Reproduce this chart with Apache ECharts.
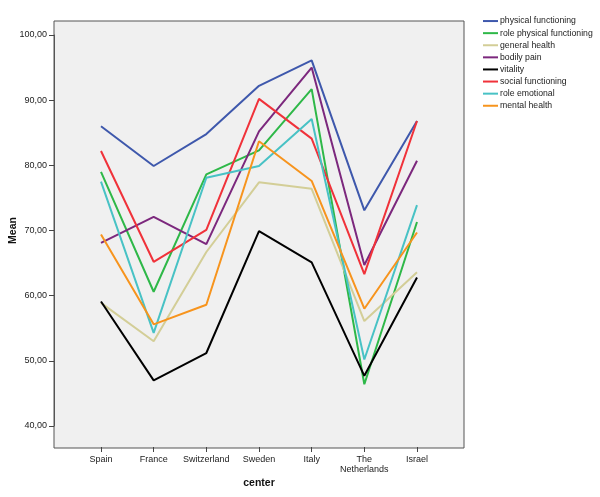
<!DOCTYPE html>
<html><head><meta charset="utf-8">
<script src="https://cdn.jsdelivr.net/npm/echarts@6/dist/echarts.min.js"></script>
<style>html,body{margin:0;padding:0;background:#fff}#c{width:600px;height:497px}</style>
</head><body><div id="c"></div>
<script>
const centers = ['Spain','France','Switzerland','Sweden','Italy','The\nNetherlands','Israel'];
const yTicks = [40,50,60,70,80,90,100];
const physicalFunctioning = [86.0, 79.9, 84.8, 92.2, 96.1, 73.1, 86.8];
const rolePhysical = [79.0, 60.6, 78.6, 82.3, 91.7, 46.4, 71.3];
const generalHealth = [58.9, 53.0, 66.7, 77.4, 76.4, 56.1, 63.6];
const bodilyPain = [68.1, 72.1, 67.9, 85.2, 95.0, 64.7, 80.7];
const vitality = [59.1, 47.0, 51.2, 69.9, 65.1, 47.7, 62.8];
const socialFunctioning = [82.2, 65.2, 70.1, 90.2, 84.1, 63.3, 86.8];
const roleEmotional = [77.5, 54.3, 78.1, 79.9, 87.1, 50.2, 73.9];
const mentalHealth = [69.4, 55.6, 58.6, 83.7, 77.6, 58.0, 69.7];

const seriesDefs = [
  ['physical functioning', physicalFunctioning, '#3e58ac'],
  ['role physical functioning', rolePhysical, '#2eb848'],
  ['general health', generalHealth, '#d3ce97'],
  ['bodily pain', bodilyPain, '#7c287d'],
  ['vitality', vitality, '#000000'],
  ['social functioning', socialFunctioning, '#f0323a'],
  ['role emotional', roleEmotional, '#48c2c5'],
  ['mental health', mentalHealth, '#f7941d']
];

const chart = echarts.init(document.getElementById('c'), null, {renderer:'canvas'});
const font = 'Arial, "Liberation Sans", sans-serif';
chart.setOption({
  animation: false,
  textStyle: {fontFamily: font},
  grid: [
    {left: 101, right: 183, top: 35, bottom: 71, show: false, containLabel: false, outerBoundsMode: 'none'},
    {left: 54, right: 136, top: 21, bottom: 49, show: true, backgroundColor: '#f0f0f0', borderColor: '#555', borderWidth: 1, z: 0, containLabel: false, outerBoundsMode: 'none'}
  ],
  xAxis: [
    {type: 'category', gridIndex: 0, data: centers, boundaryGap: false, offset: 21,
     axisLine: {show: false},
     axisTick: {show: true, length: 5, lineStyle: {color: '#444'}},
     axisLabel: {color: '#222', fontSize: 9, margin: 8, lineHeight: 10, interval: 0},
     name: 'center', nameLocation: 'middle', nameGap: 31, nameMoveOverlap: false,
     nameTextStyle: {fontWeight: 'bold', fontSize: 10.5, color: '#111'},
     splitLine: {show: false}},
    {type: 'value', gridIndex: 1, show: false}
  ],
  yAxis: [
    {type: 'value', gridIndex: 0, min: yTicks[0], max: yTicks[yTicks.length-1], interval: 10, offset: 47,
     axisLine: {show: true, lineStyle: {color: '#555'}},
     axisTick: {show: true, length: 5, lineStyle: {color: '#444'}},
     axisLabel: {color: '#222', fontSize: 9, margin: 7, formatter: v => v.toFixed(2).replace('.', ',')},
     splitLine: {show: false},
     name: 'Mean', nameLocation: 'middle', nameGap: 35, nameRotate: 90, nameMoveOverlap: false,
     nameTextStyle: {fontWeight: 'bold', fontSize: 10.5, color: '#111'}},
    {type: 'value', gridIndex: 1, show: false}
  ],
  legend: {
    orient: 'vertical', left: 483, top: 16, padding: 0, itemGap: 2, itemWidth: 15, itemHeight: 2,
    icon: 'rect', textStyle: {fontSize: 8.7, color: '#222', padding: [0,0,0,-3], lineHeight: 10.1},
    data: seriesDefs.map(d => d[0])
  },
  series: seriesDefs.map(d => ({
    name: d[0], type: 'line', xAxisIndex: 0, yAxisIndex: 0, data: d[1],
    showSymbol: false, symbol: 'none', color: d[2],
    lineStyle: {width: 2, color: d[2]}, z: 3
  }))
});
</script></body></html>
